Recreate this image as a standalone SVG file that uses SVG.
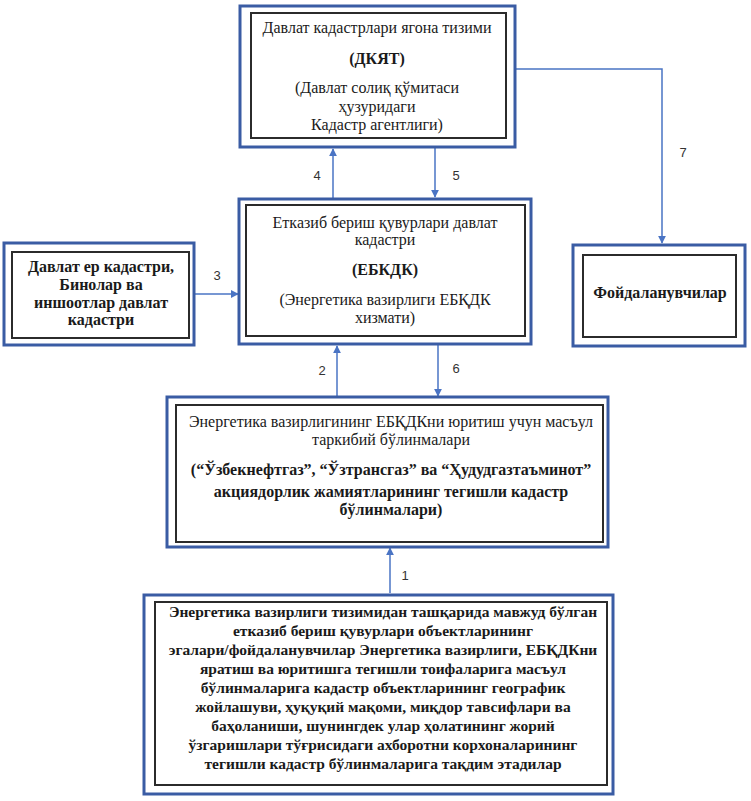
<svg xmlns="http://www.w3.org/2000/svg" width="751" height="801" viewBox="0 0 751 801">
<defs>
<style>
.outer{fill:#fff;stroke:#3a5ca4;stroke-width:3}
.inner{fill:#fff;stroke:#2b2b2b;stroke-width:2}
.t{font-family:'Liberation Serif','Times New Roman',serif;font-size:16px;fill:#1a1a1a;text-anchor:middle}
.b{font-weight:bold}
.c{fill:none;stroke:#4a74c4;stroke-width:1.5}
.lbl{font-family:'Liberation Sans',Arial,sans-serif;font-size:13px;fill:#333;text-anchor:middle}
</style>
<marker id="ah" viewBox="0 0 10 10" refX="9" refY="5" markerWidth="8" markerHeight="8" markerUnits="userSpaceOnUse" orient="auto">
<path d="M0,0 L10,5 L0,10 z" fill="#4a74c4"/>
</marker>
</defs>
<rect width="751" height="801" fill="#fff"/>

<g id="connectors">
<line class="c" x1="333" y1="198" x2="333" y2="149" marker-end="url(#ah)"/>
<line class="c" x1="435" y1="147" x2="435" y2="197" marker-end="url(#ah)"/>
<line class="c" x1="337" y1="397" x2="337" y2="346" marker-end="url(#ah)"/>
<line class="c" x1="438" y1="345" x2="438" y2="396" marker-end="url(#ah)"/>
<line class="c" x1="390" y1="593" x2="390" y2="548" marker-end="url(#ah)"/>
<line class="c" x1="194" y1="294" x2="238" y2="294" marker-end="url(#ah)"/>
<polyline class="c" points="515,69 662,69 662,243" marker-end="url(#ah)"/>
<text class="lbl" x="317" y="180">4</text>
<text class="lbl" x="456" y="180">5</text>
<text class="lbl" x="322" y="375">2</text>
<text class="lbl" x="456" y="373">6</text>
<text class="lbl" x="405" y="580">1</text>
<text class="lbl" x="217" y="280">3</text>
<text class="lbl" x="683" y="157">7</text>
</g>

<g id="dkyat">
<rect class="outer" x="240" y="6" width="275" height="141"/>
<rect class="inner" x="251" y="13" width="255" height="125"/>
<text class="t" x="377" y="33">Давлат кадастрлари ягона тизими</text>
<text class="t b" x="377" y="64">(ДКЯТ)</text>
<text class="t" x="377" y="93">(Давлат солиқ қўмитаси</text>
<text class="t" x="377" y="112">ҳузуридаги</text>
<text class="t" x="377" y="130">Кадастр агентлиги)</text>
</g>

<g id="ebkdk">
<rect class="outer" x="239" y="199" width="292" height="145"/>
<rect class="inner" x="246" y="205" width="279" height="131"/>
<text class="t" x="385" y="228">Етказиб бериш қувурлари давлат</text>
<text class="t" x="385" y="245">кадастри</text>
<text class="t b" x="385" y="275">(ЕБКДК)</text>
<text class="t" x="385" y="305">(Энергетика вазирлиги ЕБҚДК</text>
<text class="t" x="385" y="323">хизмати)</text>
</g>

<g id="kadastr">
<rect class="outer" x="4" y="243" width="190" height="102"/>
<rect class="inner" x="12" y="252" width="177" height="86"/>
<text class="t b" x="101" y="272">Давлат ер кадастри,</text>
<text class="t b" x="101" y="290">Бинолар ва</text>
<text class="t b" x="101" y="308">иншоотлар давлат</text>
<text class="t b" x="101" y="325">кадастри</text>
</g>

<g id="users">
<rect class="outer" x="573" y="245" width="172" height="101"/>
<rect class="inner" x="583" y="255" width="153" height="82"/>
<text class="t b" x="660" y="298">Фойдаланувчилар</text>
</g>

<g id="units">
<rect class="outer" x="167" y="397" width="441" height="150"/>
<rect class="inner" x="176" y="405" width="427" height="137"/>
<text class="t" x="391" y="427">Энергетика вазирлигининг ЕБҚДКни юритиш учун масъул</text>
<text class="t" x="391" y="445">таркибий бўлинмалари</text>
<text class="t b" x="391" y="475">(“Ўзбекнефтгаз”, “Ўзтрансгаз” ва “Ҳудудгазтаъминот”</text>
<text class="t b" x="391" y="497">акциядорлик жамиятларининг тегишли кадастр</text>
<text class="t b" x="391" y="515">бўлинмалари)</text>
</g>

<g id="owners">
<rect class="outer" x="144" y="595" width="469" height="199"/>
<rect class="inner" x="155" y="602" width="452" height="183"/>
<text class="t b" x="383" y="617" style="font-size:15.5px">Энергетика вазирлиги тизимидан ташқарида мавжуд бўлган</text>
<text class="t b" x="383" y="636" style="font-size:15.5px">етказиб бериш қувурлари объектларининг</text>
<text class="t b" x="383" y="655" style="font-size:15.5px">эгалари/фойдаланувчилар Энергетика вазирлиги, ЕБҚДКни</text>
<text class="t b" x="383" y="674" style="font-size:15.5px">яратиш ва юритишга тегишли тоифаларига масъул</text>
<text class="t b" x="383" y="693" style="font-size:15.5px">бўлинмаларига кадастр объектларининг географик</text>
<text class="t b" x="383" y="712" style="font-size:15.5px">жойлашуви, ҳуқуқий мақоми, миқдор тавсифлари ва</text>
<text class="t b" x="383" y="731" style="font-size:15.5px">баҳоланиши, шунингдек улар ҳолатининг жорий</text>
<text class="t b" x="383" y="750" style="font-size:15.5px">ўзгаришлари тўғрисидаги ахборотни корхоналарининг</text>
<text class="t b" x="383" y="769" style="font-size:15.5px">тегишли кадастр бўлинмаларига тақдим этадилар</text>
</g>
</svg>
